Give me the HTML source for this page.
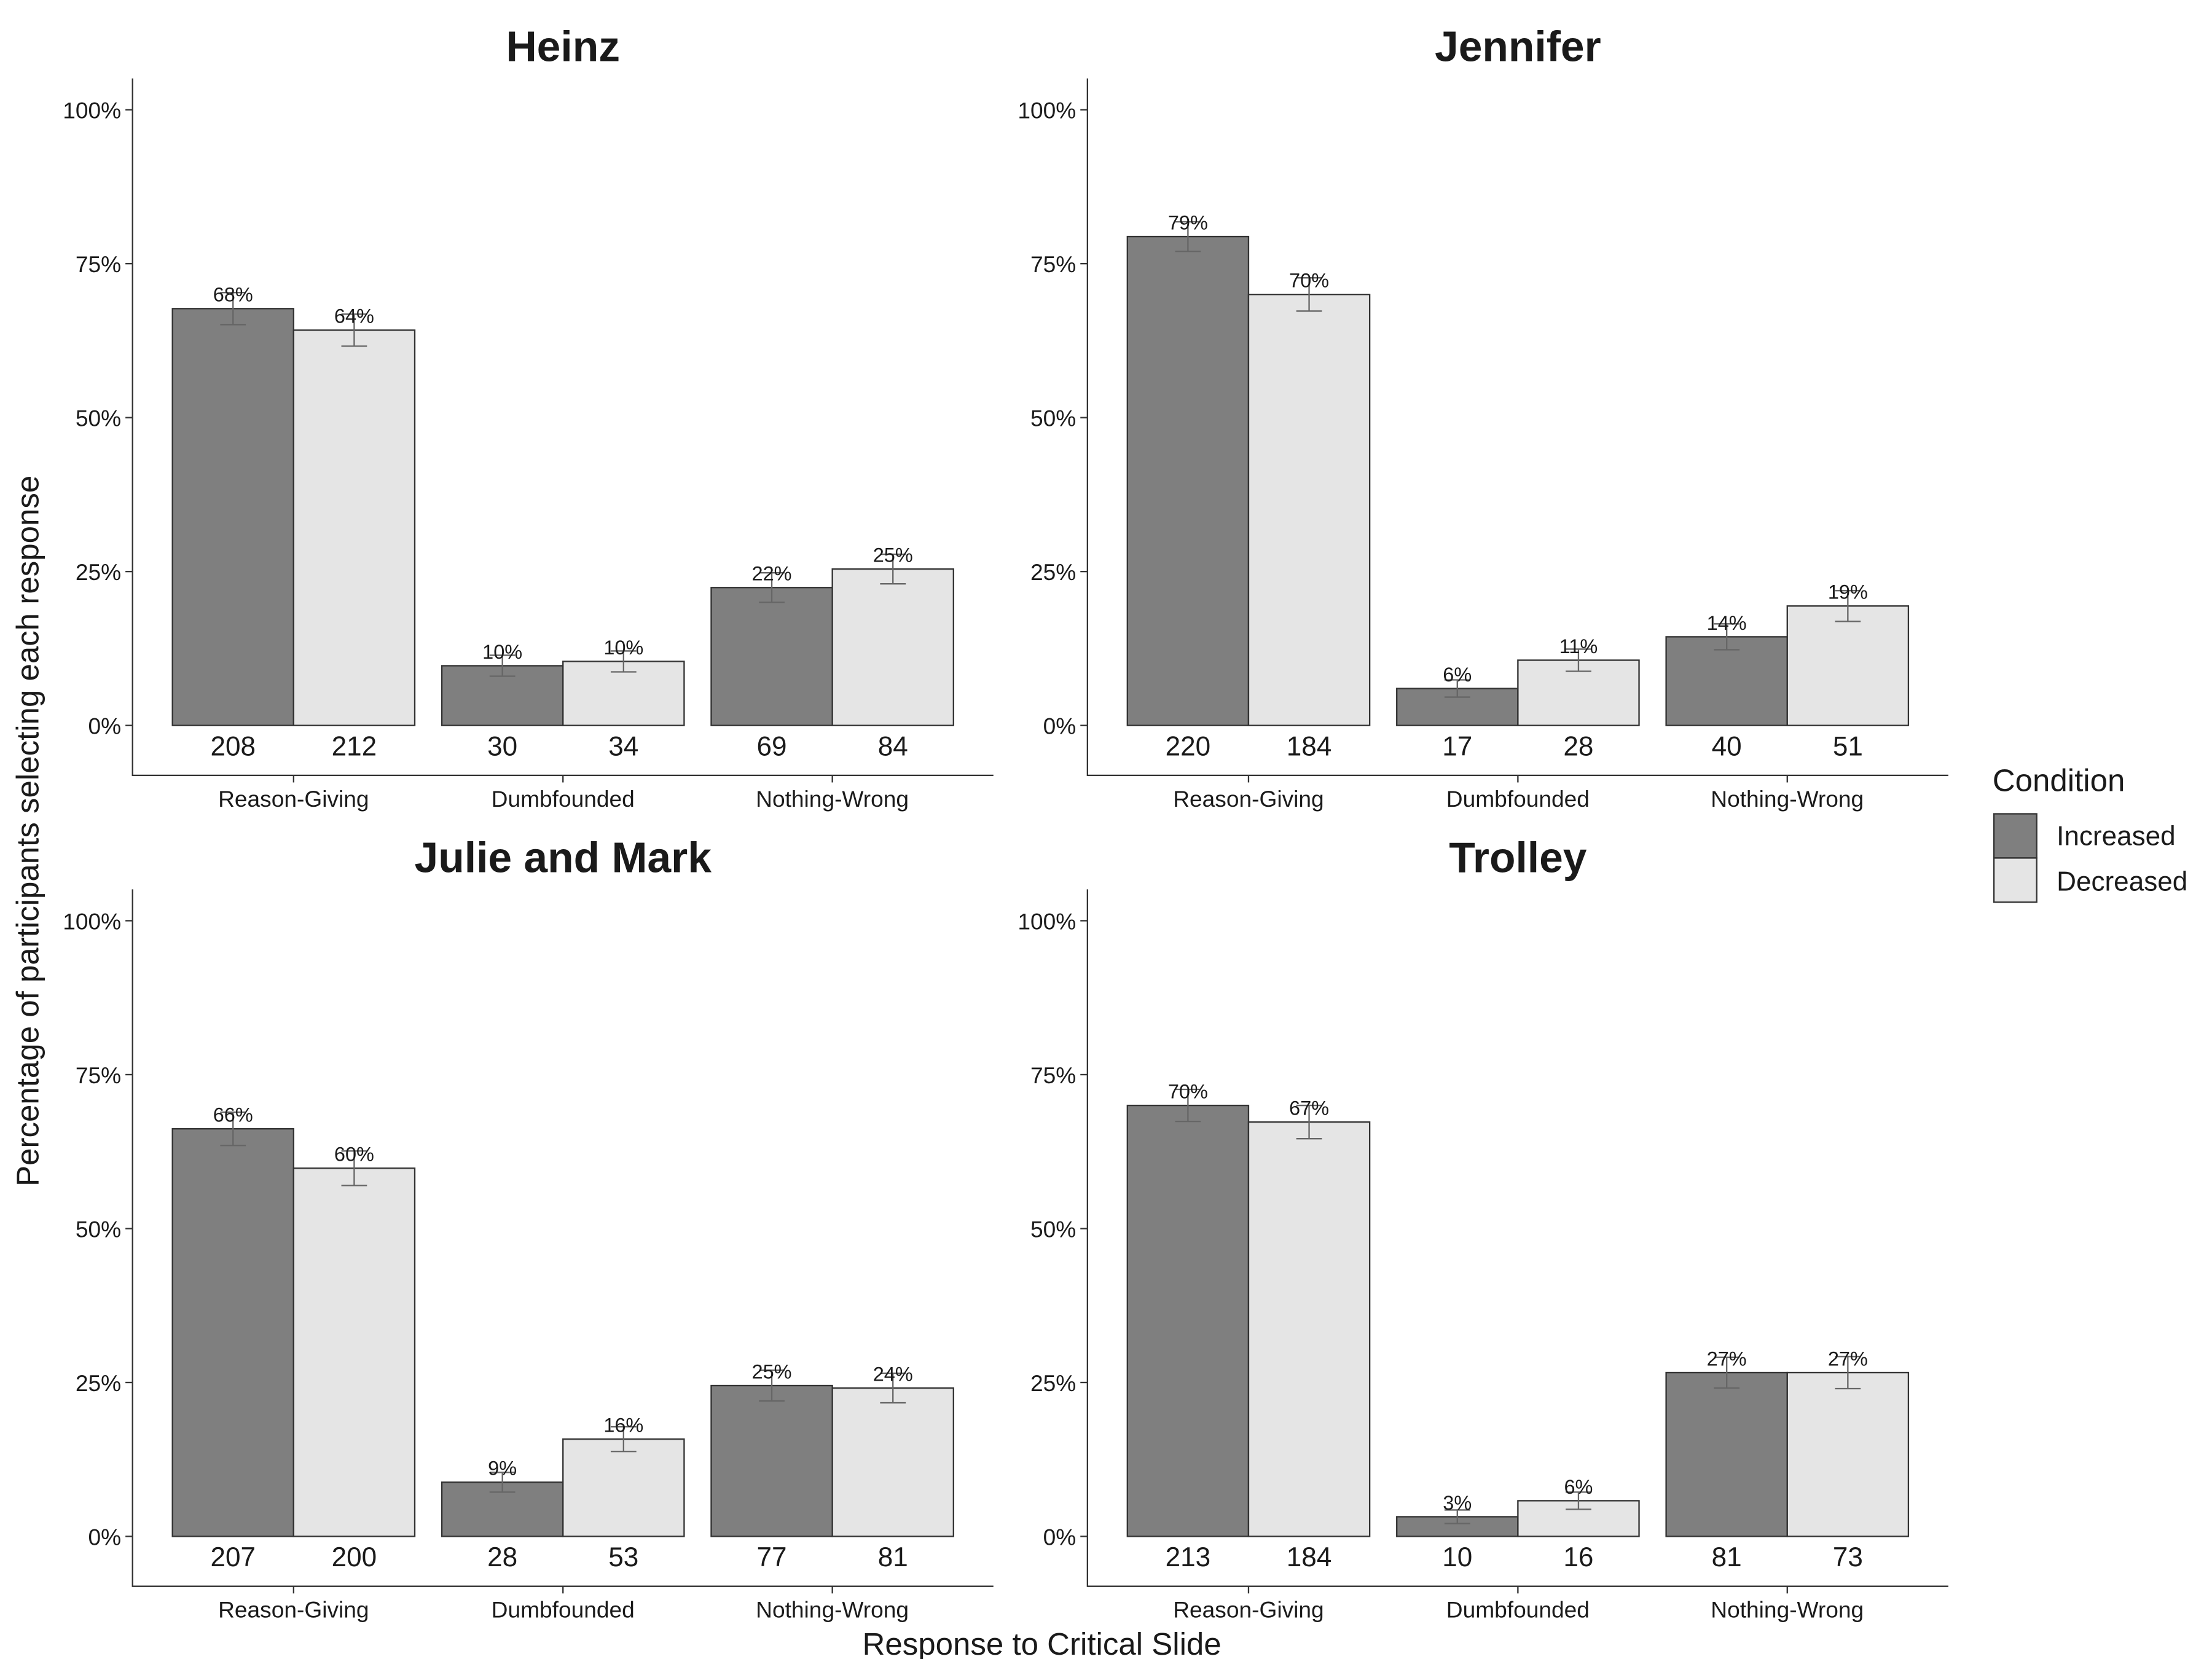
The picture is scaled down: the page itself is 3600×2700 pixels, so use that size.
<!DOCTYPE html>
<html><head><meta charset="utf-8"><style>
html,body{margin:0;padding:0;background:#fff;}
svg{display:block;font-family:"Liberation Sans",Arial,sans-serif;}
</style></head><body>
<svg id="chart" width="3600" height="2700" viewBox="0 0 1552 1164" xmlns="http://www.w3.org/2000/svg">
<rect width="1552" height="1164" fill="#fff"/>
<text transform="translate(27,583) rotate(-90)" text-anchor="middle" font-size="22" fill="#1a1a1a">Percentage of participants selecting each response</text>
<text x="731" y="1161" text-anchor="middle" font-size="22" fill="#1a1a1a">Response to Critical Slide</text>
<g>
<text x="1398" y="555" font-size="22" fill="#1a1a1a">Condition</text>
<rect x="1399" y="571" width="30" height="31" fill="#7f7f7f" stroke="#333" stroke-width="1"/>
<rect x="1399" y="602" width="30" height="31" fill="#e5e5e5" stroke="#333" stroke-width="1"/>
<text x="1443" y="593" font-size="19" fill="#1a1a1a">Increased</text>
<text x="1443" y="625" font-size="19" fill="#1a1a1a">Decreased</text>
</g>
</svg>
<script>
const panelTitles = ["Heinz","Jennifer","Julie and Mark","Trolley"];
const categories = ["Reason-Giving","Dumbfounded","Nothing-Wrong"];
const yTicks = [0,25,50,75,100];
const increasedValues = [[67.7,9.7,22.4],[79.4,6.0,14.4],[66.2,8.8,24.5],[70.0,3.2,26.6]];
const decreasedValues = [[64.2,10.4,25.4],[70.0,10.6,19.4],[59.8,15.8,24.1],[67.3,5.8,26.6]];
const increasedErr = [[2.6,1.7,2.4],[2.4,1.4,2.1],[2.7,1.6,2.5],[2.6,1.1,2.5]];
const decreasedErr = [[2.6,1.7,2.4],[2.7,1.8,2.5],[2.8,2.0,2.4],[2.7,1.4,2.6]];
const increasedCounts = [[208,30,69],[220,17,40],[207,28,77],[213,10,81]];
const decreasedCounts = [[212,34,84],[184,28,51],[200,53,81],[184,16,73]];

const svg = document.getElementById('chart');
const NS = 'http://www.w3.org/2000/svg';
function mk(tag, attrs, parent){const e=document.createElementNS(NS,tag);for(const k in attrs)e.setAttribute(k,attrs[k]);parent.appendChild(e);return e;}
const offsets=[[0,0],[670,0],[0,569],[670,569]];
offsets.forEach((off,p)=>{
  const ox=off[0], oy=off[1];
  const g=mk('g',{},svg);
  
  
  const y=v=>oy+509-v*4.32;
  const xc=i=>ox+206+i*189;
  const t=mk('text',{x:ox+395,y:oy+43,'text-anchor':'middle','font-size':30,'font-weight':'bold',fill:'#1a1a1a'},g);
  t.textContent=panelTitles[p];
  
  
  const ax=mk('path',{d:`M${ox+93},${oy+55}V${oy+544}H${ox+697}`,stroke:'#333',fill:'none','stroke-width':1},g);
  
  
  yTicks.forEach(v=>{
    mk('line',{x1:ox+88,x2:ox+93,y1:y(v),y2:y(v),stroke:'#333'},g);
    const l=mk('text',{x:ox+85,y:y(v)+6,'text-anchor':'end','font-size':16,fill:'#1a1a1a'},g);
    l.textContent=v+'%';
    
    
  });
  categories.forEach((c,i)=>{
    mk('line',{x1:xc(i),x2:xc(i),y1:oy+544,y2:oy+549,stroke:'#333'},g);
    const cl=mk('text',{x:xc(i),y:oy+566,'text-anchor':'middle','font-size':16,fill:'#1a1a1a'},g);
    cl.textContent=c;
    
    
    [[increasedValues,increasedErr,increasedCounts,'#7f7f7f',-85,'increased'],[decreasedValues,decreasedErr,decreasedCounts,'#e5e5e5',0,'decreased']].forEach(s=>{
      const v=s[0][p][i], e=s[1][p][i], n=s[2][p][i];
      const x0=xc(i)+s[4];
      const b=mk('rect',{x:x0,y:y(v),width:85,height:y(0)-y(v),fill:s[3],stroke:'#333','stroke-width':1},g);
      
      
      const cx=x0+42.5;
      const eb=mk('path',{d:`M${cx-9},${y(v+e)}H${cx+9}M${cx},${y(v+e)}V${y(v-e)}M${cx-9},${y(v-e)}H${cx+9}`,stroke:'#666',fill:'none','stroke-width':1},g);
      
      
      const pl=mk('text',{x:cx,y:y(v)-5,'text-anchor':'middle','font-size':14,fill:'#1a1a1a'},g);
      pl.textContent=Math.round(v)+'%';
      
      
      const nl=mk('text',{x:cx,y:oy+530,'text-anchor':'middle','font-size':19,fill:'#1a1a1a'},g);
      nl.textContent=n;
      
      
    });
  });
});
</script>
</body></html>
